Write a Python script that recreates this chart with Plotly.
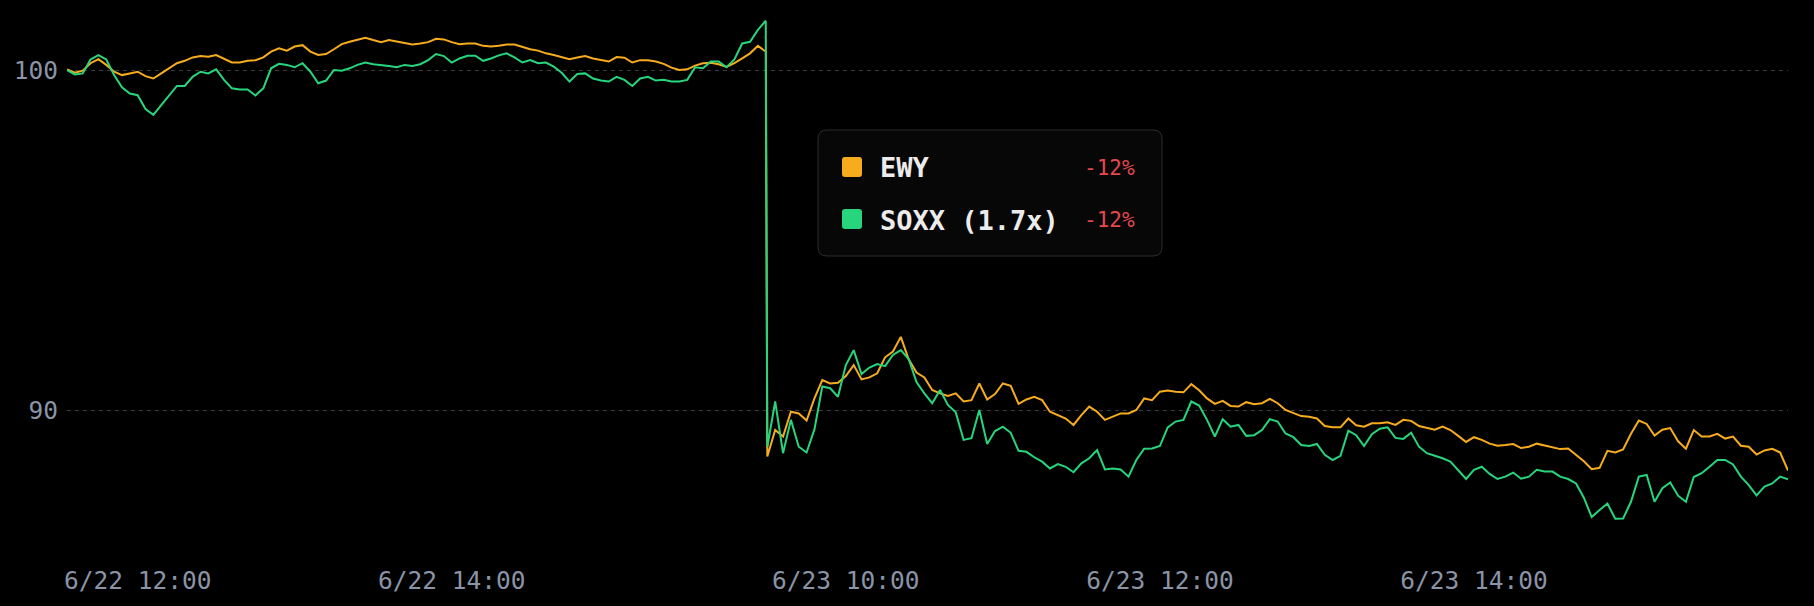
import pandas as pd
import plotly.graph_objects as go

# ---------------- data ----------------
day1_start = "2025-06-22 11:33"
day2_start = "2025-06-23 09:30"
step = "3min"

ewy_day1 = [
    100.02, 99.92, 99.98, 100.20, 100.32, 100.15, 99.95, 99.85, 99.90, 99.95,
    99.82, 99.75, 99.90, 100.05, 100.20, 100.27, 100.37, 100.41, 100.39, 100.44,
    100.34, 100.22, 100.22, 100.27, 100.29, 100.37, 100.54, 100.64, 100.57, 100.69,
    100.73, 100.54, 100.44, 100.47, 100.61, 100.76, 100.83, 100.88, 100.95, 100.88,
    100.82, 100.88, 100.83, 100.78, 100.75, 100.78, 100.82, 100.92, 100.90, 100.82,
    100.76, 100.78, 100.78, 100.71, 100.69, 100.71, 100.75, 100.75, 100.67, 100.61,
    100.57, 100.49, 100.44, 100.38, 100.32, 100.37, 100.41, 100.34, 100.29, 100.25,
    100.38, 100.36, 100.22, 100.29, 100.29, 100.25, 100.18, 100.07, 100.00, 100.02,
    100.13, 100.20, 100.21, 100.17, 100.09, 100.20, 100.34, 100.49, 100.71, 100.54,
]
soxx_day1 = [
    100.00, 99.87, 99.90, 100.31, 100.44, 100.31, 99.85, 99.49, 99.31, 99.26,
    98.85, 98.68, 98.97, 99.26, 99.53, 99.53, 99.80, 99.95, 99.90, 100.02,
    99.71, 99.46, 99.43, 99.43, 99.25, 99.46, 100.05, 100.18, 100.15, 100.08,
    100.20, 99.95, 99.61, 99.69, 100.00, 99.98, 100.05, 100.15, 100.22, 100.17,
    100.15, 100.12, 100.08, 100.15, 100.12, 100.17, 100.29, 100.47, 100.41, 100.22,
    100.34, 100.42, 100.42, 100.27, 100.34, 100.43, 100.49, 100.37, 100.22, 100.29,
    100.20, 100.22, 100.10, 99.92, 99.66, 99.88, 99.90, 99.75, 99.69, 99.66,
    99.80, 99.71, 99.53, 99.75, 99.80, 99.69, 99.71, 99.66, 99.66, 99.71,
    100.08, 100.05, 100.25, 100.25, 100.08, 100.31, 100.78, 100.83, 101.18, 101.45,
]
ewy_day2 = [
    88.63, 89.41, 89.22, 89.95, 89.90, 89.69, 90.34, 90.88, 90.78, 90.80,
    91.00, 91.32, 90.90, 90.96, 91.08, 91.55, 91.72, 92.15, 91.49, 91.10,
    90.96, 90.59, 90.49, 90.41, 90.49, 90.25, 90.29, 90.78, 90.31, 90.47,
    90.78, 90.71, 90.18, 90.31, 90.39, 90.29, 89.95, 89.85, 89.75, 89.56,
    89.85, 90.10, 89.95, 89.71, 89.80, 89.90, 89.90, 90.00, 90.34, 90.29,
    90.54, 90.57, 90.54, 90.52, 90.76, 90.58, 90.34, 90.18, 90.27, 90.12,
    90.10, 90.23, 90.17, 90.20, 90.33, 90.20, 90.00, 89.92, 89.82, 89.80,
    89.75, 89.53, 89.49, 89.49, 89.75, 89.55, 89.51, 89.61, 89.61, 89.64,
    89.56, 89.71, 89.68, 89.53, 89.48, 89.42, 89.51, 89.41, 89.24, 89.06,
    89.20, 89.12, 89.01, 88.95, 88.97, 89.00, 88.88, 88.92, 89.01, 88.96,
    88.92, 88.85, 88.87, 88.67, 88.49, 88.26, 88.30, 88.80, 88.75, 88.84,
    89.30, 89.69, 89.59, 89.25, 89.42, 89.47, 89.08, 88.86, 89.41, 89.22,
    89.22, 89.30, 89.16, 89.22, 88.95, 88.92, 88.69, 88.81, 88.86, 88.75,
    88.22,
]
soxx_day2 = [
    88.92, 90.25, 88.73, 89.71, 88.92, 88.75, 89.43, 90.69, 90.64, 90.39,
    91.32, 91.76, 91.06, 91.25, 91.35, 91.29, 91.62, 91.76, 91.50, 90.82,
    90.49, 90.20, 90.59, 90.15, 89.93, 89.12, 89.17, 90.00, 89.00, 89.38,
    89.51, 89.33, 88.80, 88.77, 88.61, 88.48, 88.28, 88.41, 88.33, 88.17,
    88.43, 88.58, 88.82, 88.25, 88.28, 88.25, 88.04, 88.53, 88.86, 88.87,
    88.94, 89.49, 89.66, 89.71, 90.25, 90.13, 89.71, 89.22, 89.73, 89.51,
    89.56, 89.24, 89.26, 89.41, 89.73, 89.66, 89.31, 89.20, 88.97, 88.94,
    89.00, 88.68, 88.53, 88.65, 89.39, 89.26, 88.94, 89.29, 89.45, 89.49,
    89.18, 89.15, 89.33, 88.92, 88.73, 88.66, 88.58, 88.48, 88.22, 87.97,
    88.24, 88.33, 88.12, 87.97, 88.04, 88.16, 87.98, 88.04, 88.24, 88.19,
    88.19, 88.04, 87.97, 87.84, 87.42, 86.85, 87.06, 87.25, 86.80, 86.81,
    87.30, 88.04, 88.09, 87.30, 87.70, 87.87, 87.48, 87.30, 88.03, 88.14,
    88.33, 88.53, 88.53, 88.40, 88.04, 87.79, 87.49, 87.75, 87.84, 88.04,
    87.96,
]

tick_vals = ["2025-06-22 12:00", "2025-06-22 14:00", "2025-06-23 10:00",
             "2025-06-23 12:00", "2025-06-23 14:00"]
tick_text = ["6/22 12:00", "6/22 14:00", "6/23 10:00", "6/23 12:00", "6/23 14:00"]
y_ticks = [90, 100]

series_names = ["EWY", "SOXX (1.7x)"]
series_changes = ["-12%", "-12%"]
series_colors = ["#f7ac1e", "#27d57c"]

# ---------------- build ----------------
t1 = pd.date_range(day1_start, periods=len(ewy_day1), freq=step)
t2 = pd.date_range(day2_start, periods=len(ewy_day2), freq=step)
times = list(t1) + list(t2)
ewy = ewy_day1 + ewy_day2
soxx = soxx_day1 + soxx_day2

W, H = 1814, 606
ML, MR, MT, MB = 67, 26, 10, 46
PW, PH = W - ML - MR, H - MT - MB
y_lo = 100 - (MT + PH - 70) / 34.0
y_hi = 100 + (70 - MT) / 34.0

fig = go.Figure()
fig.add_trace(go.Scatter(x=times, y=ewy, mode="lines", name=series_names[0],
                         line=dict(color=series_colors[0], width=2), hoverinfo="skip"))
fig.add_trace(go.Scatter(x=times, y=soxx, mode="lines", name=series_names[1],
                         line=dict(color=series_colors[1], width=2), hoverinfo="skip"))


def px(X):
    return (X - ML) / PW


def py(Y):
    return (MT + PH - Y) / PH


def rrect(X0, Y0, X1, Y1, r):
    x0, x1 = px(X0), px(X1)
    yt, yb = py(Y0), py(Y1)
    rx, ry = r / PW, r / PH
    return (f"M {x0+rx},{yt} L {x1-rx},{yt} Q {x1},{yt} {x1},{yt-ry} "
            f"L {x1},{yb+ry} Q {x1},{yb} {x1-rx},{yb} L {x0+rx},{yb} "
            f"Q {x0},{yb} {x0},{yb+ry} L {x0},{yt-ry} Q {x0},{yt} {x0+rx},{yt} Z")


shapes = [dict(type="path", xref="paper", yref="paper", path=rrect(818, 130, 1162, 256, 9),
               fillcolor="#070707", line=dict(color="#2c2c2c", width=1), layer="above")]
annotations = []
row_y = [167, 219]
for i in range(2):
    cy = row_y[i]
    shapes.append(dict(type="path", xref="paper", yref="paper",
                       path=rrect(842, cy - 10, 862, cy + 10, 3),
                       fillcolor=series_colors[i], line=dict(width=0), layer="above"))
    annotations.append(dict(xref="paper", yref="paper", x=px(878), y=py(cy + 1),
                            xanchor="left", yanchor="middle", showarrow=False,
                            text=series_names[i],
                            font=dict(family="DejaVu Sans Mono", size=27, color="#ececec",
                                      weight="bold")))
    annotations.append(dict(xref="paper", yref="paper", x=px(1137), y=py(cy + 1),
                            xanchor="right", yanchor="middle", showarrow=False,
                            text=series_changes[i],
                            font=dict(family="DejaVu Sans Mono", size=21, color="#e5484d")))

tick_font = dict(family="DejaVu Sans Mono", size=24.5, color="#8a94a6")
fig.update_layout(
    width=W, height=H, autosize=False,
    margin=dict(l=ML, r=MR, t=MT, b=MB, pad=0),
    paper_bgcolor="#000000", plot_bgcolor="#000000",
    showlegend=False,
    shapes=shapes, annotations=annotations,
    xaxis=dict(type="date", rangebreaks=[dict(bounds=[16.01, 9.5], pattern="hour")],
               tickvals=tick_vals, ticktext=tick_text, tickfont=tick_font,
               showgrid=False, zeroline=False, showline=False, ticks="",
               ticklabelstandoff=3),
    yaxis=dict(range=[y_lo, y_hi], tickvals=y_ticks, tickfont=tick_font,
               showgrid=True, gridcolor="#3a3a3a", gridwidth=1, griddash="4px,4px",
               zeroline=False, showline=False, ticks="", ticklabelstandoff=8),
)

fig.write_html("out.html")
